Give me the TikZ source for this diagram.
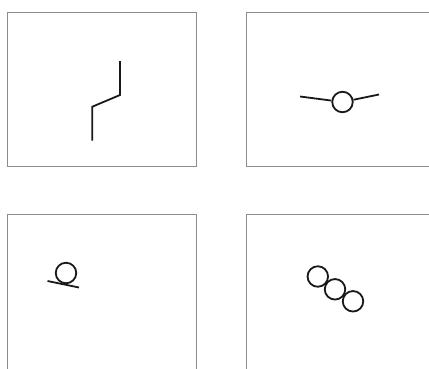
\documentclass[tikz,border=0pt]{standalone}
\begin{document}
\begin{tikzpicture}[x=1pt,y=-1pt,
  frame/.style={draw=black!45,line width=0.9pt},
  stroke/.style={draw=black!90,line width=1.8pt},
  ring/.style={circle,draw=black!90,line width=1.8pt,minimum size=20.5pt,inner sep=0pt}]
\useasboundingbox (0,0) rectangle (429,368);
% frames
\draw[frame] (7.5,12) rectangle (196,166.5);
\draw[frame] (430,12.3) -- (246.7,12.3) -- (246.7,166.7) -- (430,166.7);
\draw[frame] (7.5,370) -- (7.5,214) -- (196,214) -- (196,370);
\draw[frame] (246.7,370) -- (246.7,214) -- (430,214);
% panel 1
\coordinate (p1a) at (120,61);
\coordinate (p1b) at (120,95);
\coordinate (p1c) at (92.3,106.7);
\coordinate (p1d) at (92.3,140.7);
\draw[stroke,line join=miter] (p1a) -- (p1b) -- (p1c) -- (p1d);
% panel 2
\node[ring] (c2) at (342.5,102) {};
\coordinate (l2) at (300,96.5);
\coordinate (r2) at (379,94.5);
\draw[stroke] (l2) -- (c2);
\draw[stroke] (c2) -- (r2);
% panel 3
\node[ring] (c3) at (66,273) {};
\coordinate (l3a) at (47.5,281);
\coordinate (l3b) at (79,287.5);
\draw[stroke] (l3a) -- (l3b);
% panel 4
\node[ring] (c4a) at (317.8,276.5) {};
\node[ring] (c4b) at (335,289.3) {};
\node[ring] (c4c) at (353,301.3) {};
\end{tikzpicture}
\end{document}
